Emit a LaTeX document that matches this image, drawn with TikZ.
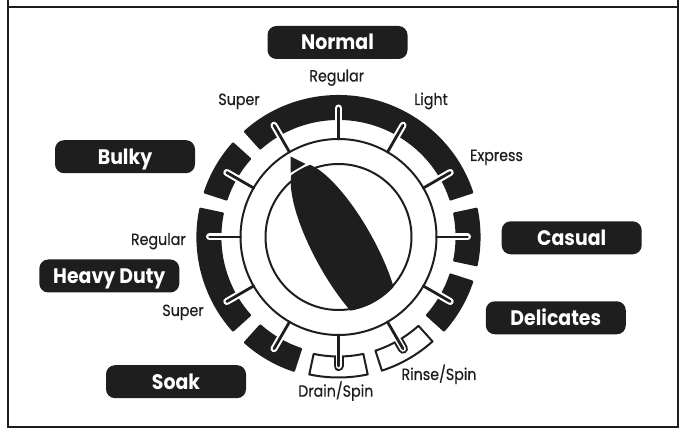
\documentclass[tikz,border=0pt]{standalone}
\usepackage{fontspec}
\newfontfamily\dialfont{Poppins}[FakeStretch=0.9]
\newfontfamily\setfont{Poppins}[FakeStretch=0.88, FakeBold=0.5]
\definecolor{ink}{HTML}{1E1E1E}
\newcommand\ringseg[5]{\path[#1] (#2:#4) arc[start angle=#2,end angle=#3,radius=#4] -- (#3:#5) arc[start angle=#3,end angle=#2,radius=#5] -- cycle;}
\begin{document}
\begin{tikzpicture}[x=1pt,y=1pt,
  tag/.style={fill=ink, rounded corners=9pt, minimum width=140pt, minimum height=33pt,
    text=white, font=\dialfont\bfseries\fontsize{21}{21}\selectfont, inner sep=0pt,
    text height=15pt, text depth=0pt},
  lbl/.style={font=\setfont\fontsize{16.2}{17}\selectfont, anchor=base, inner sep=0pt, text=ink},
  halo/.style={white, line width=7pt, line cap=round},
  tick/.style={ink, line width=2.8pt, line cap=round}]
\useasboundingbox (0,0) rectangle (683,428);
% frame
\draw[ink, line width=2pt] (8,428) -- (8,1) -- (678,1) -- (678,428);
\draw[ink, line width=2pt] (8,421) -- (678,421);
\coordinate (K) at (338.5,191);
% dial
\begin{scope}[shift={(K)}]
  \draw[ink, line width=2pt] (0,0) circle[radius=98];
  % black segments
  \ringseg{fill=ink, rounded corners=1pt}{18}{132}{117}{142}
  \ringseg{fill=ink, rounded corners=1pt}{138}{162}{117}{142}
  \ringseg{fill=ink, rounded corners=1pt}{168}{222}{117}{142}
  \ringseg{fill=ink, rounded corners=1pt}{228}{252}{117}{142}
  \ringseg{fill=ink, rounded corners=1pt}{318}{342}{117}{142}
  \ringseg{fill=ink, rounded corners=1pt}{348}{372}{117}{142}
  \foreach \a in {0,30,60,90,120,150,180,210,240,330}
    \draw[halo] (\a:108) -- (\a:129);
  % white segments
  \foreach \a/\b in {258/282,288/312} {
    \ringseg{draw=ink, fill=white, line width=2pt, line join=round}{\a}{\b}{119.5}{140.5}
  }
  \foreach \a in {270,300} {
    \begin{scope}
      \ringseg{clip}{\a-12}{\a+12}{119.5}{140.5}
      \draw[ink, line width=10pt, line cap=round] (\a:112) -- (\a:129);
    \end{scope}
    \draw[white, line width=6pt, line cap=round] (\a:112) -- (\a:129);
  }
  % ticks
  \foreach \a in {0,30,...,330}
    \draw[tick] (\a:98) -- (\a:129);
  % knob
  \draw[ink, line width=2pt] (0,0) circle[radius=73];
\end{scope}
% pointer
\begin{scope}
  \clip ([shift={(-1.2,1.2)}]K) circle[radius=76];
  \fill[ink, rotate around={29:(345,178)}] (345,178) ellipse[x radius=30, y radius=98];
\end{scope}
\fill[ink] (290.7,271.5) -- (290.7,255.3) -- (305.5,264) -- cycle;
% cycle names
\node[tag] (normal) at (337.5,385.5) {Normal};
\node[tag] (bulky) at (125,271.3) {Bulky};
\node[tag] (heavy) at (109.3,152) {Heavy Duty};
\node[tag] (casual) at (571.7,190.2) {Casual};
\node[tag] (delicates) at (555.8,110.2) {Delicates};
\node[tag] (soak) at (176,46.3) {Soak};
% settings
\node[lbl] (nreg) at (336.7,346.5) {Regular};
\node[lbl] (nsup) at (239,323) {Super};
\node[lbl] (nlight) at (431,323) {Light};
\node[lbl] (nexp) at (496.5,267) {Express};
\node[lbl] (hreg) at (158.3,183) {Regular};
\node[lbl] (hsup) at (183,112) {Super};
\node[lbl] (drain) at (335.8,31.3) {Drain/Spin};
\node[lbl] (rinse) at (439,48) {Rinse/Spin};
\end{tikzpicture}
\end{document}
